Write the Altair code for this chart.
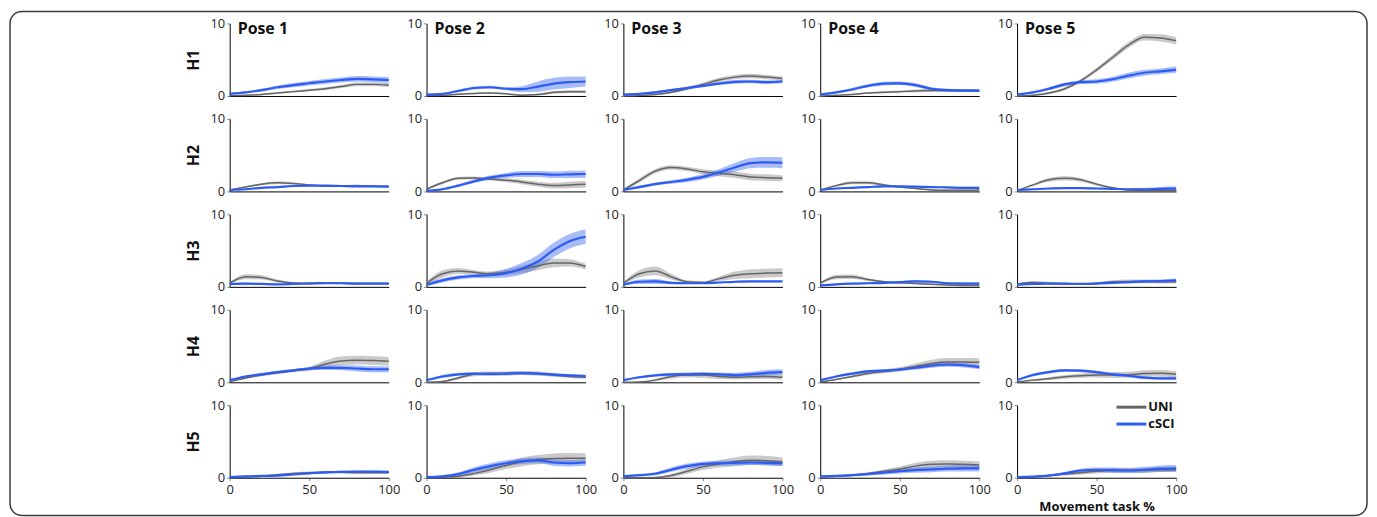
import altair as alt
import pandas as pd

X = [0, 10, 20, 30, 40, 50, 60, 70, 80, 90, 100]
POSES = ["Pose 1", "Pose 2", "Pose 3", "Pose 4", "Pose 5"]
ROWS = ["H1", "H2", "H3", "H4", "H5"]
GROUPS = ["UNI", "cSCI"]

# ---- H1 ----
UNI_H1 = [
    [0.05, 0.1, 0.2, 0.4, 0.6, 0.8, 1.0, 1.3, 1.6, 1.6, 1.5],
    [0.05, 0.1, 0.25, 0.35, 0.4, 0.3, 0.1, 0.2, 0.5, 0.6, 0.6],
    [0.0, 0.05, 0.2, 0.5, 1.0, 1.6, 2.2, 2.6, 2.75, 2.6, 2.4],
    [0.0, 0.1, 0.2, 0.4, 0.5, 0.6, 0.7, 0.75, 0.75, 0.75, 0.7],
    [0.0, 0.1, 0.4, 1.0, 2.1, 3.6, 5.3, 7.0, 8.1, 8.0, 7.6],
]
UNI_H1_SD = [
    [0.05, 0.05, 0.1, 0.1, 0.15, 0.15, 0.2, 0.2, 0.25, 0.25, 0.25],
    [0.05, 0.05, 0.1, 0.1, 0.1, 0.1, 0.1, 0.15, 0.2, 0.2, 0.2],
    [0.05, 0.05, 0.1, 0.15, 0.2, 0.25, 0.3, 0.3, 0.3, 0.3, 0.3],
    [0.05, 0.05, 0.1, 0.1, 0.15, 0.15, 0.2, 0.2, 0.2, 0.2, 0.2],
    [0.05, 0.1, 0.15, 0.2, 0.25, 0.3, 0.35, 0.4, 0.45, 0.5, 0.5],
]
CSCI_H1 = [
    [0.3, 0.5, 0.8, 1.2, 1.5, 1.75, 2.0, 2.2, 2.35, 2.3, 2.2],
    [0.2, 0.3, 0.7, 1.1, 1.2, 1.0, 0.95, 1.3, 1.7, 1.9, 2.0],
    [0.2, 0.3, 0.5, 0.8, 1.1, 1.4, 1.7, 1.95, 2.0, 1.9, 2.0],
    [0.2, 0.5, 0.9, 1.4, 1.7, 1.75, 1.5, 1.0, 0.8, 0.75, 0.75],
    [0.2, 0.5, 1.0, 1.6, 1.9, 2.0, 2.3, 2.8, 3.2, 3.4, 3.6],
]
CSCI_H1_SD = [
    [0.1, 0.15, 0.2, 0.25, 0.3, 0.3, 0.35, 0.35, 0.4, 0.4, 0.4],
    [0.1, 0.1, 0.15, 0.2, 0.2, 0.2, 0.4, 0.7, 0.8, 0.8, 0.7],
    [0.1, 0.1, 0.15, 0.15, 0.2, 0.2, 0.2, 0.25, 0.25, 0.25, 0.25],
    [0.1, 0.15, 0.2, 0.2, 0.25, 0.25, 0.25, 0.2, 0.2, 0.2, 0.2],
    [0.1, 0.15, 0.2, 0.25, 0.25, 0.3, 0.35, 0.4, 0.4, 0.4, 0.45],
]

# ---- H2 ----
UNI_H2 = [
    [0.2, 0.6, 1.0, 1.2, 1.1, 0.9, 0.75, 0.75, 0.8, 0.7, 0.7],
    [0.3, 1.2, 1.8, 1.85, 1.7, 1.55, 1.3, 1.0, 0.8, 0.9, 1.0],
    [0.2, 1.5, 2.8, 3.3, 3.1, 2.7, 2.5, 2.3, 2.0, 1.9, 1.8],
    [0.2, 0.8, 1.2, 1.2, 0.9, 0.6, 0.4, 0.2, 0.15, 0.15, 0.2],
    [0.1, 0.9, 1.6, 1.8, 1.6, 1.0, 0.5, 0.2, 0.15, 0.15, 0.15],
]
UNI_H2_SD = [
    [0.05, 0.1, 0.15, 0.2, 0.15, 0.1, 0.1, 0.1, 0.1, 0.1, 0.1],
    [0.1, 0.2, 0.2, 0.2, 0.2, 0.25, 0.3, 0.35, 0.4, 0.45, 0.45],
    [0.1, 0.3, 0.3, 0.3, 0.3, 0.35, 0.4, 0.45, 0.45, 0.45, 0.4],
    [0.05, 0.15, 0.2, 0.2, 0.15, 0.1, 0.1, 0.1, 0.1, 0.1, 0.1],
    [0.05, 0.15, 0.25, 0.3, 0.25, 0.15, 0.1, 0.1, 0.1, 0.1, 0.1],
]
CSCI_H2 = [
    [0.2, 0.3, 0.5, 0.6, 0.75, 0.8, 0.8, 0.75, 0.7, 0.7, 0.65],
    [0.1, 0.3, 0.8, 1.4, 1.9, 2.2, 2.4, 2.4, 2.3, 2.35, 2.4],
    [0.2, 0.6, 1.0, 1.3, 1.6, 2.0, 2.6, 3.3, 3.9, 4.0, 3.95],
    [0.2, 0.4, 0.5, 0.6, 0.7, 0.7, 0.65, 0.6, 0.55, 0.5, 0.5],
    [0.2, 0.3, 0.4, 0.45, 0.45, 0.4, 0.35, 0.3, 0.3, 0.35, 0.4],
]
CSCI_H2_SD = [
    [0.05, 0.1, 0.1, 0.1, 0.1, 0.1, 0.1, 0.1, 0.1, 0.1, 0.1],
    [0.1, 0.15, 0.2, 0.25, 0.3, 0.35, 0.4, 0.4, 0.45, 0.5, 0.5],
    [0.1, 0.2, 0.2, 0.25, 0.3, 0.35, 0.45, 0.6, 0.7, 0.75, 0.75],
    [0.05, 0.1, 0.1, 0.1, 0.1, 0.1, 0.1, 0.1, 0.1, 0.15, 0.15],
    [0.05, 0.1, 0.1, 0.1, 0.1, 0.1, 0.1, 0.15, 0.2, 0.25, 0.3],
]

# ---- H3 ----
UNI_H3 = [
    [0.5, 1.4, 1.3, 0.8, 0.55, 0.5, 0.55, 0.5, 0.45, 0.45, 0.45],
    [0.5, 1.8, 2.2, 2.0, 1.8, 2.0, 2.4, 2.9, 3.3, 3.3, 2.8],
    [0.5, 1.8, 2.2, 1.4, 0.7, 0.6, 1.1, 1.6, 1.8, 1.9, 1.95],
    [0.5, 1.35, 1.4, 1.0, 0.7, 0.55, 0.45, 0.35, 0.25, 0.2, 0.2],
    [0.4, 0.6, 0.5, 0.4, 0.4, 0.5, 0.7, 0.75, 0.75, 0.7, 0.7],
]
UNI_H3_SD = [
    [0.1, 0.35, 0.3, 0.2, 0.1, 0.1, 0.1, 0.1, 0.1, 0.1, 0.1],
    [0.2, 0.5, 0.4, 0.3, 0.3, 0.4, 0.5, 0.6, 0.6, 0.5, 0.4],
    [0.2, 0.5, 0.6, 0.4, 0.2, 0.2, 0.3, 0.5, 0.6, 0.6, 0.6],
    [0.1, 0.3, 0.3, 0.2, 0.15, 0.1, 0.1, 0.1, 0.1, 0.1, 0.1],
    [0.1, 0.2, 0.2, 0.15, 0.1, 0.15, 0.2, 0.25, 0.25, 0.25, 0.25],
]
CSCI_H3 = [
    [0.4, 0.45, 0.4, 0.35, 0.4, 0.45, 0.5, 0.5, 0.45, 0.45, 0.45],
    [0.3, 0.9, 1.3, 1.5, 1.6, 1.9, 2.5, 3.5, 5.1, 6.3, 6.9],
    [0.3, 0.7, 0.75, 0.55, 0.5, 0.5, 0.6, 0.7, 0.75, 0.75, 0.75],
    [0.2, 0.35, 0.45, 0.5, 0.55, 0.65, 0.75, 0.7, 0.5, 0.45, 0.45],
    [0.3, 0.4, 0.45, 0.45, 0.4, 0.45, 0.55, 0.65, 0.75, 0.8, 0.9],
]
CSCI_H3_SD = [
    [0.1, 0.15, 0.1, 0.1, 0.1, 0.1, 0.1, 0.1, 0.1, 0.1, 0.1],
    [0.2, 0.3, 0.3, 0.3, 0.4, 0.6, 0.8, 0.9, 1.0, 1.0, 1.0],
    [0.1, 0.3, 0.35, 0.2, 0.1, 0.1, 0.1, 0.1, 0.1, 0.1, 0.1],
    [0.05, 0.1, 0.1, 0.1, 0.1, 0.15, 0.15, 0.15, 0.15, 0.2, 0.2],
    [0.1, 0.1, 0.1, 0.1, 0.1, 0.1, 0.1, 0.15, 0.2, 0.2, 0.25],
]

# ---- H4 ----
UNI_H4 = [
    [0.1, 0.6, 1.0, 1.3, 1.6, 1.85, 2.5, 2.95, 3.05, 3.0, 2.9],
    [0.0, 0.1, 0.6, 1.1, 1.2, 1.2, 1.3, 1.2, 1.0, 0.8, 0.7],
    [0.0, 0.05, 0.3, 0.8, 1.0, 1.0, 0.8, 0.7, 0.75, 0.8, 0.7],
    [0.05, 0.4, 0.8, 1.2, 1.5, 1.8, 2.2, 2.6, 2.8, 2.8, 2.75],
    [0.05, 0.3, 0.5, 0.75, 0.9, 1.0, 1.0, 1.05, 1.2, 1.25, 1.1],
]
UNI_H4_SD = [
    [0.05, 0.1, 0.15, 0.2, 0.2, 0.3, 0.5, 0.6, 0.6, 0.6, 0.6],
    [0.05, 0.1, 0.2, 0.25, 0.3, 0.3, 0.3, 0.3, 0.25, 0.2, 0.2],
    [0.05, 0.05, 0.15, 0.3, 0.35, 0.4, 0.35, 0.3, 0.3, 0.35, 0.35],
    [0.05, 0.1, 0.15, 0.2, 0.25, 0.3, 0.4, 0.5, 0.55, 0.55, 0.55],
    [0.05, 0.15, 0.2, 0.25, 0.3, 0.35, 0.4, 0.4, 0.45, 0.45, 0.4],
]
CSCI_H4 = [
    [0.3, 0.8, 1.1, 1.4, 1.65, 1.9, 2.0, 2.0, 1.9, 1.8, 1.8],
    [0.3, 0.8, 1.1, 1.2, 1.15, 1.2, 1.25, 1.2, 1.05, 0.95, 0.85],
    [0.3, 0.7, 0.95, 1.1, 1.1, 1.15, 1.1, 1.0, 1.1, 1.3, 1.4],
    [0.3, 0.8, 1.2, 1.5, 1.6, 1.75, 2.0, 2.3, 2.45, 2.35, 2.1],
    [0.3, 1.0, 1.4, 1.65, 1.6, 1.4, 1.1, 0.9, 0.65, 0.55, 0.55],
]
CSCI_H4_SD = [
    [0.1, 0.15, 0.2, 0.2, 0.2, 0.2, 0.3, 0.35, 0.4, 0.4, 0.4],
    [0.1, 0.2, 0.2, 0.2, 0.2, 0.2, 0.2, 0.2, 0.2, 0.2, 0.2],
    [0.1, 0.15, 0.15, 0.2, 0.2, 0.2, 0.25, 0.3, 0.35, 0.4, 0.4],
    [0.1, 0.15, 0.2, 0.2, 0.2, 0.2, 0.25, 0.3, 0.3, 0.3, 0.3],
    [0.1, 0.2, 0.2, 0.2, 0.2, 0.2, 0.2, 0.2, 0.2, 0.2, 0.2],
]

# ---- H5 ----
UNI_H5 = [
    [0.0, 0.1, 0.2, 0.4, 0.6, 0.7, 0.75, 0.75, 0.7, 0.7, 0.7],
    [0.0, 0.05, 0.2, 0.6, 1.1, 1.7, 2.2, 2.5, 2.65, 2.7, 2.7],
    [0.0, 0.0, 0.05, 0.3, 0.9, 1.5, 1.9, 2.2, 2.4, 2.35, 2.2],
    [0.1, 0.2, 0.35, 0.6, 0.9, 1.2, 1.6, 1.85, 1.9, 1.85, 1.75],
    [0.0, 0.1, 0.3, 0.5, 0.7, 0.9, 1.0, 1.0, 1.0, 1.1, 1.1],
]
UNI_H5_SD = [
    [0.05, 0.05, 0.1, 0.1, 0.15, 0.15, 0.15, 0.15, 0.15, 0.15, 0.15],
    [0.05, 0.05, 0.15, 0.3, 0.4, 0.5, 0.6, 0.65, 0.7, 0.7, 0.65],
    [0.05, 0.05, 0.05, 0.2, 0.35, 0.45, 0.5, 0.6, 0.65, 0.65, 0.6],
    [0.05, 0.1, 0.1, 0.15, 0.25, 0.35, 0.45, 0.5, 0.5, 0.5, 0.5],
    [0.05, 0.1, 0.15, 0.2, 0.25, 0.3, 0.3, 0.3, 0.3, 0.3, 0.3],
]
CSCI_H5 = [
    [0.1, 0.2, 0.25, 0.3, 0.45, 0.6, 0.75, 0.8, 0.85, 0.85, 0.8],
    [0.1, 0.2, 0.5, 1.1, 1.6, 2.0, 2.3, 2.4, 2.1, 2.0, 2.1],
    [0.2, 0.35, 0.55, 1.1, 1.6, 1.9, 2.0, 2.05, 2.1, 2.05, 2.0],
    [0.2, 0.25, 0.35, 0.5, 0.7, 0.9, 1.05, 1.15, 1.25, 1.3, 1.3],
    [0.1, 0.15, 0.3, 0.6, 1.0, 1.1, 1.05, 1.0, 1.1, 1.25, 1.3],
]
CSCI_H5_SD = [
    [0.05, 0.1, 0.1, 0.1, 0.1, 0.1, 0.15, 0.15, 0.15, 0.15, 0.15],
    [0.1, 0.15, 0.25, 0.35, 0.4, 0.4, 0.4, 0.4, 0.45, 0.45, 0.45],
    [0.1, 0.15, 0.2, 0.3, 0.35, 0.35, 0.35, 0.35, 0.35, 0.35, 0.35],
    [0.1, 0.1, 0.15, 0.2, 0.25, 0.3, 0.35, 0.4, 0.4, 0.45, 0.45],
    [0.05, 0.1, 0.1, 0.2, 0.25, 0.3, 0.35, 0.35, 0.4, 0.45, 0.45],
]

UNI = [UNI_H1, UNI_H2, UNI_H3, UNI_H4, UNI_H5]
UNI_SD = [UNI_H1_SD, UNI_H2_SD, UNI_H3_SD, UNI_H4_SD, UNI_H5_SD]
CSCI = [CSCI_H1, CSCI_H2, CSCI_H3, CSCI_H4, CSCI_H5]
CSCI_SD = [CSCI_H1_SD, CSCI_H2_SD, CSCI_H3_SD, CSCI_H4_SD, CSCI_H5_SD]

FONT = "Open Sans"
LINE_COLORS = ["#666666", "#2d5cf2"]
BAND_COLORS = ["#8a8a8a", "#3f6af2"]
LINE_WIDTHS = [1.5, 2.2]
W, H = 160, 73


def panel(r, c):
    recs = []
    for g, means, sds in [("UNI", UNI[r][c], UNI_SD[r][c]),
                          ("cSCI", CSCI[r][c], CSCI_SD[r][c])]:
        for x, m, s in zip(X, means, sds):
            recs.append({"x": x, "mean": m, "lo": max(m - s, 0.0),
                         "hi": m + s, "group": g})
    df = pd.DataFrame(recs)
    last = r == 4

    xkw = dict(values=[0, 50, 100], labels=last, ticks=last, tickSize=3,
               labelFlush=False, grid=False, domainColor="#000",
               labelFontSize=13, labelColor="#222", labelPadding=3,
               titleFontSize=13, titleFontWeight="bold", titlePadding=4,
               titleColor="#111")
    xtitle = "Movement task %" if (last and c == 4) else ""
    ykw = dict(values=[0, 5, 10], tickSize=3, labelFlush=False, grid=False,
               domainColor="#000", labelFontSize=13, labelColor="#222",
               labelPadding=2, titleFontSize=16, titleFontWeight="bold",
               titleColor="#111", titlePadding=9)
    ytitle = ROWS[r] if c == 0 else ""

    xenc = alt.X("x:Q", scale=alt.Scale(domain=[0, 100], nice=False),
                 axis=alt.Axis(**xkw), title=xtitle)
    yenc = alt.Y("lo:Q", scale=alt.Scale(domain=[0, 10], nice=False),
                 axis=alt.Axis(**ykw), title=ytitle)

    base = alt.Chart(df)
    band = base.mark_area(interpolate="monotone", opacity=0.45).encode(
        x=xenc, y=yenc, y2="hi:Q",
        fill=alt.Fill("group:N", scale=alt.Scale(domain=GROUPS, range=BAND_COLORS),
                      legend=None),
        detail="group:N",
    )
    ymean = alt.Y("mean:Q", scale=alt.Scale(domain=[0, 10], nice=False))
    layers = [band]
    for g, col, sw in zip(GROUPS, LINE_COLORS, LINE_WIDTHS):
        layers.append(
            base.transform_filter(alt.datum.group == g).mark_line(
                interpolate="monotone", strokeWidth=sw, color=col
            ).encode(x=xenc, y=ymean)
        )
    if r == 0:
        ttl = alt.Chart(pd.DataFrame({"t": [POSES[c]]})).mark_text(
            align="left", baseline="middle", fontSize=16, fontWeight="bold",
            font=FONT, color="#111"
        ).encode(x=alt.value(8), y=alt.value(6), text="t:N")
        layers.append(ttl)
    if r == 4 and c == 4:
        # legend drawn inside the last panel
        for i, (g, col) in enumerate(zip(GROUPS, LINE_COLORS)):
            ly = 2 + 17 * i
            leg = alt.Chart(pd.DataFrame({"t": [g]}))
            layers.append(leg.mark_rule(color=col, strokeWidth=3).encode(
                x=alt.value(100), x2=alt.value(130), y=alt.value(ly)))
            layers.append(leg.mark_text(
                align="left", baseline="middle", fontSize=13,
                fontWeight="bold", font=FONT, color="#111"
            ).encode(x=alt.value(132), y=alt.value(ly), text="t:N"))
    if r == 0 and c == 0:
        frame = alt.Chart(pd.DataFrame({"k": [0]})).mark_rect(
            fillOpacity=0, stroke="#3c3c3c", strokeWidth=1.5, cornerRadius=12
        ).encode(x=alt.value(-221), x2=alt.value(1144),
                 y=alt.value(-12), y2=alt.value(495))
        layers.insert(0, frame)
    return alt.layer(*layers).properties(width=W, height=H)


panels = [panel(r, c) for r in range(5) for c in range(5)]

chart = alt.concat(
    *panels, columns=5,
    spacing=alt.RowColnumber(row=23, column=38), bounds="flush"
).properties(
    padding=0
).configure(font=FONT).configure_view(stroke="transparent").configure_axis(
    labelFont=FONT, titleFont=FONT
)

chart.save("out.html", embed_options={"renderer": "svg", "actions": False})
